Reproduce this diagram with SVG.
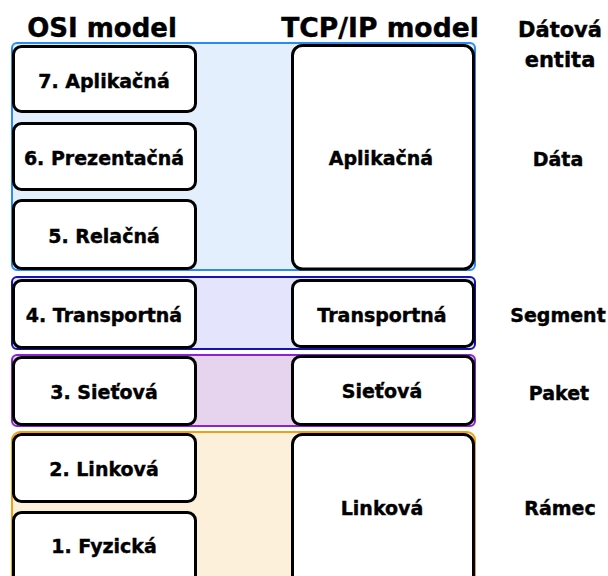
<svg xmlns="http://www.w3.org/2000/svg" width="608" height="576" viewBox="0 0 608 576">
<style>
text{font-family:"DejaVu Sans","Liberation Sans",sans-serif;font-weight:bold;fill:#000;stroke:#000;stroke-width:0.4;text-anchor:middle}
.h{font-size:26px}
.d{font-size:21px}
.l{font-size:19px}
.box{fill:#fff;stroke:#000;stroke-width:3}
.band{stroke-width:2}
</style>
<rect width="608" height="576" fill="#fff"/>
<g id="bands">
<rect id="band-app" class="band" x="12" y="43" width="463" height="227" rx="5" fill="#e3effc" stroke="#2a8cf0"/>
<rect id="band-transport" class="band" x="12" y="277" width="463" height="72" rx="5" fill="#e4e4fc" stroke="#1414b4"/>
<rect id="band-network" class="band" x="12" y="355" width="463" height="71" rx="5" fill="#e6d4ee" stroke="#8b22d6"/>
<rect id="band-link" class="band" x="12" y="432" width="463" height="160" rx="8" fill="#fdf0da" stroke="#f0a010"/>
</g>
<g id="headers">
<text class="h" x="102" y="37">OSI model</text>
<text class="h" x="380" y="37" style="font-size:26.6px">TCP/IP model</text>
<text class="d" x="560" y="37">Dátová</text>
<text class="d" x="560" y="67">entita</text>
</g>
<g id="osi7"><rect class="box" x="13.5" y="46.5" width="182" height="65" rx="8"/><text class="l" x="104" y="88">7. Aplikačná</text></g>
<g id="osi6"><rect class="box" x="13.5" y="123.5" width="182" height="66" rx="8"/><text class="l" x="104" y="165">6. Prezentačná</text></g>
<g id="osi5"><rect class="box" x="13.5" y="200.5" width="182" height="68" rx="8"/><text class="l" x="104" y="243">5. Relačná</text></g>
<g id="osi4"><rect class="box" x="13.5" y="280.5" width="182" height="67" rx="8"/><text class="l" x="104" y="322">4. Transportná</text></g>
<g id="osi3"><rect class="box" x="13.5" y="357.5" width="182" height="67" rx="8"/><text class="l" x="104" y="399">3. Sieťová</text></g>
<g id="osi2"><rect class="box" x="13.5" y="434.5" width="182" height="67" rx="8"/><text class="l" x="104" y="476">2. Linková</text></g>
<g id="osi1"><rect class="box" x="13.5" y="512.5" width="182" height="80" rx="8"/><text class="l" x="104" y="553">1. Fyzická</text></g>
<g id="tcp-app"><rect class="box" x="292.5" y="45.5" width="181" height="223.5" rx="10"/><text class="l" x="381" y="165">Aplikačná</text></g>
<g id="tcp-transport"><rect class="box" x="292.5" y="280.5" width="181" height="66" rx="8"/><text class="l" x="382" y="322">Transportná</text></g>
<g id="tcp-network"><rect class="box" x="292.5" y="356.5" width="181" height="68" rx="8"/><text class="l" x="382" y="398">Sieťová</text></g>
<g id="tcp-link"><rect class="box" x="292.5" y="434.5" width="181" height="160" rx="10"/><text class="l" x="382" y="515">Linková</text></g>
<g id="data-units">
<text class="l" x="558" y="166">Dáta</text>
<text class="l" x="558" y="322">Segment</text>
<text class="l" x="559" y="400">Paket</text>
<text class="l" x="560" y="515">Rámec</text>
</g>
<g id="connectors"></g>
</svg>
